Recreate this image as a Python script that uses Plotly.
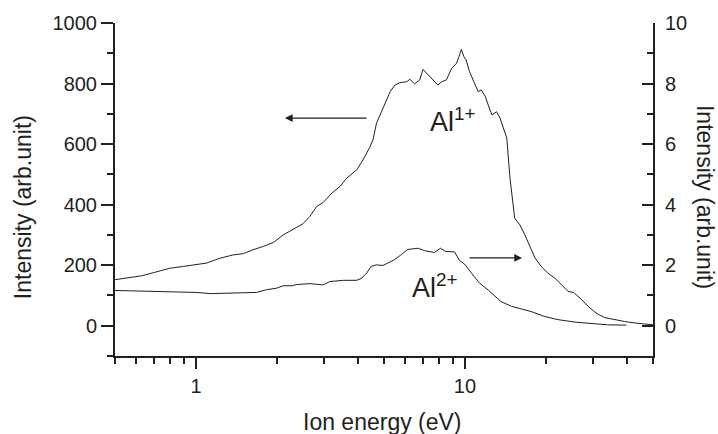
import math
import plotly.graph_objects as go

# Al1+ (left axis)
e1 = [0.50, 0.55, 0.628, 0.70, 0.80, 0.90, 1.00, 1.095, 1.228, 1.376, 1.50, 1.63, 1.78, 1.94,
      2.11, 2.27, 2.50, 2.65, 2.81, 2.97, 3.20, 3.43, 3.63, 3.96, 4.18, 4.43, 4.55, 4.69, 4.97,
      5.27, 5.49, 5.73, 6.07, 6.24, 6.50, 6.79, 6.98, 7.18, 7.50, 7.93, 8.20, 8.53, 8.92, 9.30,
      9.50, 9.70, 9.90, 10.1, 10.4, 10.9, 11.2, 11.5, 11.9, 12.2, 12.6, 13.1, 13.5, 14.3, 14.7,
      15.3, 16.0, 16.7, 17.5, 18.2, 19.2, 20.3, 21.6, 22.8, 24.2, 25.3, 26.8, 28.7, 30.7, 33.0,
      35.9, 39.2, 42.9, 46.5, 50.0]
i1 = [152, 158, 165, 176, 190, 196, 201, 207, 223, 234, 238, 251, 262, 275,
      300, 317, 337, 361, 394, 407, 438, 460, 487, 515, 548, 590, 614, 669, 724,
      773, 795, 803, 806, 814, 799, 812, 847, 836, 817, 795, 806, 812, 850, 867,
      889, 913, 889, 878, 839, 795, 773, 779, 757, 729, 696, 707, 686, 620, 488,
      356, 333, 300, 257, 224, 196, 174, 157, 135, 113, 110, 91, 64, 42, 27,
      20, 14, 9, 7, 3]

# Al2+ (right axis)
e2 = [0.50, 0.60, 0.735, 0.85, 1.00, 1.13, 1.38, 1.68, 1.83, 1.99, 2.11, 2.27, 2.37, 2.65,
      2.97, 3.15, 3.53, 3.96, 4.13, 4.31, 4.48, 4.68, 4.95, 5.17, 5.47, 5.80, 6.13, 6.70,
      7.07, 7.70, 8.10, 8.50, 9.15, 9.55, 9.96, 10.6, 11.35, 12.2, 13.1, 13.6, 14.9, 16.2,
      17.6, 19.7, 22.2, 25.6, 29.4, 33.9, 39.8]
i2 = [1.165, 1.15, 1.13, 1.12, 1.10, 1.06, 1.08, 1.10, 1.19, 1.24, 1.32, 1.32, 1.36, 1.39,
      1.35, 1.46, 1.50, 1.50, 1.57, 1.74, 1.96, 2.01, 1.99, 2.07, 2.18, 2.35, 2.52, 2.56,
      2.48, 2.42, 2.56, 2.45, 2.44, 2.15, 2.04, 1.72, 1.40, 1.18, 0.95, 0.80, 0.64, 0.56,
      0.47, 0.31, 0.20, 0.12, 0.07, 0.03, 0.02]

x_major = [1, 10]
x_minor = [0.5, 0.6, 0.7, 0.8, 0.9, 2, 3, 4, 5, 6, 7, 8, 9, 20, 30, 40, 50]

FONT = "Liberation Sans, Arial, sans-serif"
INK = "#231f20"

fig = go.Figure()
fig.add_trace(go.Scatter(x=e1, y=i1, mode="lines", line=dict(color=INK, width=1),
                         showlegend=False, yaxis="y"))
fig.add_trace(go.Scatter(x=e2, y=i2, mode="lines", line=dict(color=INK, width=1),
                         showlegend=False, yaxis="y2"))

fig.update_layout(
    width=718, height=434,
    margin=dict(l=115, r=65, t=23, b=78),
    paper_bgcolor="white", plot_bgcolor="white",
    font=dict(family=FONT, size=20, color=INK),
    xaxis=dict(type="log", range=[math.log10(0.5), math.log10(50)],
               tickmode="array", tickvals=x_major, ticktext=[str(v) for v in x_major],
               ticks="outside", ticklen=11, tickwidth=1.5, tickcolor=INK,
               showline=True, linecolor=INK, linewidth=2, showgrid=False, zeroline=False,
               minor=dict(tickmode="array", tickvals=x_minor, ticks="outside",
                          ticklen=6, tickwidth=1.5, tickcolor=INK, showgrid=False)),
    yaxis=dict(range=[-100, 1000], tickmode="linear", tick0=0, dtick=200,
               ticks="outside", ticklen=12, tickwidth=1.5, tickcolor=INK,
               showline=True, linecolor=INK, linewidth=2, showgrid=False, zeroline=False,
               minor=dict(tick0=0, dtick=100, ticks="outside", ticklen=6,
                          tickwidth=1.5, tickcolor=INK, showgrid=False)),
    yaxis2=dict(range=[-1, 10], overlaying="y", side="right", anchor="x",
                tickmode="linear", tick0=0, dtick=2, ticklabelstandoff=6,
                ticks="inside", ticklen=11, tickwidth=1.5, tickcolor=INK,
                showline=True, linecolor=INK, linewidth=2, showgrid=False, zeroline=False,
                minor=dict(tick0=0, dtick=1, ticks="inside", ticklen=6,
                           tickwidth=1.5, tickcolor=INK, showgrid=False)),
)

ann = [
    dict(text="Intensity (arb.unit)", xref="paper", yref="paper", x=-0.171, y=0.447,
         xanchor="center", yanchor="middle",
         textangle=-90, showarrow=False, font=dict(size=23)),
    dict(text="Intensity (arb.unit)", xref="paper", yref="paper", x=1.097, y=0.477,
         xanchor="center", yanchor="middle",
         textangle=90, showarrow=False, font=dict(size=23)),
    dict(text="Ion energy (eV)", xref="paper", yref="paper", x=0.498, y=-0.198,
         xanchor="center", yanchor="middle", showarrow=False, font=dict(size=23)),
    dict(text="Al<sup>1+</sup>", xref="x", yref="y", x=0.8625, y=680, xanchor="left",
         yanchor="middle", showarrow=False, font=dict(size=27)),
    dict(text="Al<sup>2+</sup>", xref="x", yref="y", x=0.796, y=130, xanchor="left",
         yanchor="middle", showarrow=False, font=dict(size=27)),
    # arrows pointing to respective axes
    dict(x=math.log10(2.14), y=686, ax=math.log10(4.36), ay=686, xref="x", yref="y",
         axref="x", ayref="y", text="", showarrow=True, arrowhead=2, arrowsize=1.2,
         arrowwidth=1.3, arrowcolor=INK),
    dict(x=math.log10(16.3), y=224, ax=math.log10(10.26), ay=224, xref="x", yref="y",
         axref="x", ayref="y", text="", showarrow=True, arrowhead=2, arrowsize=1.2,
         arrowwidth=1.3, arrowcolor=INK),
]
fig.update_layout(annotations=ann)

fig.write_html("out.html")
